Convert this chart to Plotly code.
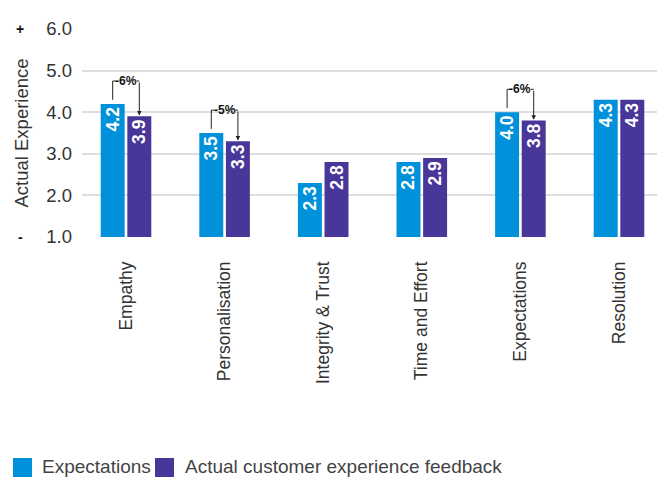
import plotly.graph_objects as go

# ---- data ----
categories = ["Empathy", "Personalisation", "Integrity & Trust",
              "Time and Effort", "Expectations", "Resolution"]
expectations = [4.2, 3.5, 2.3, 2.8, 4.0, 4.3]
actual_feedback = [3.9, 3.3, 2.8, 2.9, 3.8, 4.3]
gap_labels = {"Empathy": "-6%", "Personalisation": "-5%", "Expectations": "-6%"}
series_names = ["Expectations", "Actual customer experience feedback"]
y_ticks = [1.0, 2.0, 3.0, 4.0, 5.0, 6.0]

# ---- style ----
BLUE = "#0091DA"
PURPLE = "#483698"
TEXT = "#333333"
GRID = "#dedede"
FONT = "Liberation Sans"

# plot area in pixels (657 x 479 page)
FIG_W, FIG_H = 657, 479
LEFT, RIGHT, TOP, BOTTOM = 82, 657, 29, 237
PW, PH = RIGHT - LEFT, BOTTOM - TOP

BARGAP, GROUPGAP = 0.46, 0.1
half = (1 - BARGAP) / 4          # bar-centre offset from category centre
CAT0_PX, CAT_STEP_PX = 126, 98.6  # first category centre and spacing


def px_x(p):
    return (p - LEFT) / PW


def px_y(p):
    return (BOTTOM - p) / PH


fig = go.Figure()
fig.add_trace(go.Bar(
    x=categories, y=expectations, name=series_names[0],
    marker=dict(color=BLUE, line=dict(width=0)),
    text=[f"{v:.1f}" for v in expectations],
    textposition="inside", insidetextanchor="end", textangle=-90,
    constraintext="none",
    textfont=dict(family=FONT, size=17.5, color="white", weight="bold"),
    hoverinfo="skip",
))
fig.add_trace(go.Bar(
    x=categories, y=actual_feedback, name=series_names[1],
    marker=dict(color=PURPLE, line=dict(width=0)),
    text=[f"{v:.1f}" for v in actual_feedback],
    textposition="inside", insidetextanchor="end", textangle=-90,
    constraintext="none",
    textfont=dict(family=FONT, size=17.5, color="white", weight="bold"),
    hoverinfo="skip",
))

shapes = []
annotations = []

# gap brackets: line up from the expectation bar, arrow down onto the feedback bar
LINE = dict(color="#222222", width=1)
for i, cat in enumerate(categories):
    if cat not in gap_labels:
        continue
    a, b = expectations[i], actual_feedback[i]
    level = max(a, b) + 0.55
    xa, xb = i - half, i + half
    shapes.append(dict(type="line", xref="x", yref="y",
                       x0=xa, x1=xa, y0=a + 0.1, y1=level, line=LINE))
    shapes.append(dict(type="line", xref="x", yref="y",
                       x0=xa, x1=xa + 0.03, y0=level, y1=level, line=LINE))
    shapes.append(dict(type="line", xref="x", yref="y",
                       x0=xb - 0.03, x1=xb, y0=level, y1=level, line=LINE))
    annotations.append(dict(
        x=xb, y=b + 0.02, ax=xb, ay=level, xref="x", yref="y",
        axref="x", ayref="y", text="", showarrow=True,
        arrowhead=2, arrowsize=0.9, arrowwidth=1, arrowcolor="#222222",
    ))
    annotations.append(dict(
        x=i, y=level, xref="x", yref="y", text=gap_labels[cat],
        showarrow=False, xanchor="center", yanchor="middle",
        font=dict(family=FONT, size=12, color="#111111", weight="bold"),
    ))

# scale direction markers beside the y axis
annotations.append(dict(x=px_x(20), y=1, xref="paper", yref="paper", text="+",
                        showarrow=False, xanchor="center", yanchor="middle",
                        font=dict(family=FONT, size=14, color="#111111", weight="bold")))
annotations.append(dict(x=px_x(20), y=0, xref="paper", yref="paper", text="-",
                        showarrow=False, xanchor="center", yanchor="middle",
                        font=dict(family=FONT, size=14, color="#111111", weight="bold")))

# legend swatches and labels
legend_items = [(13, 40, BLUE, series_names[0]), (155, 183, PURPLE, series_names[1])]
for sq_x, tx_x, col, label in legend_items:
    shapes.append(dict(type="rect", xref="paper", yref="paper",
                       x0=px_x(sq_x), x1=px_x(sq_x + 19),
                       y0=px_y(477), y1=px_y(458),
                       fillcolor=col, line=dict(width=0)))
    annotations.append(dict(x=px_x(tx_x), y=px_y(466), xref="paper", yref="paper",
                            text=label, showarrow=False, xanchor="left",
                            yanchor="middle",
                            font=dict(family=FONT, size=19, color="#444444")))

x_lo = (LEFT - CAT0_PX) / CAT_STEP_PX
x_hi = (RIGHT - CAT0_PX) / CAT_STEP_PX

fig.update_layout(
    width=FIG_W, height=FIG_H,
    margin=dict(l=LEFT, r=FIG_W - RIGHT, t=TOP, b=FIG_H - BOTTOM, autoexpand=False),
    paper_bgcolor="white", plot_bgcolor="white",
    barmode="group", bargap=BARGAP, bargroupgap=GROUPGAP,
    showlegend=False,
    font=dict(family=FONT, color=TEXT),
    shapes=shapes, annotations=annotations,
    xaxis=dict(
        type="category", range=[x_lo, x_hi],
        tickangle=-90, ticklabelstandoff=20,
        tickfont=dict(family=FONT, size=17.5, color=TEXT),
        showgrid=False, showline=False, zeroline=False, ticks="",
        automargin=False,
    ),
    yaxis=dict(
        range=[1, 6], tickvals=y_ticks, ticktext=[f"{v:.1f}" for v in y_ticks],
        tickfont=dict(family=FONT, size=18.5, color=TEXT),
        ticklabelstandoff=9,
        showgrid=True, gridcolor=GRID, gridwidth=2,
        zeroline=False, showline=False, ticks="",
        title=dict(text="Actual Experience", standoff=12,
                   font=dict(family=FONT, size=18.5, color=TEXT)),
        automargin=False,
    ),
)

fig.write_html("out.html")
